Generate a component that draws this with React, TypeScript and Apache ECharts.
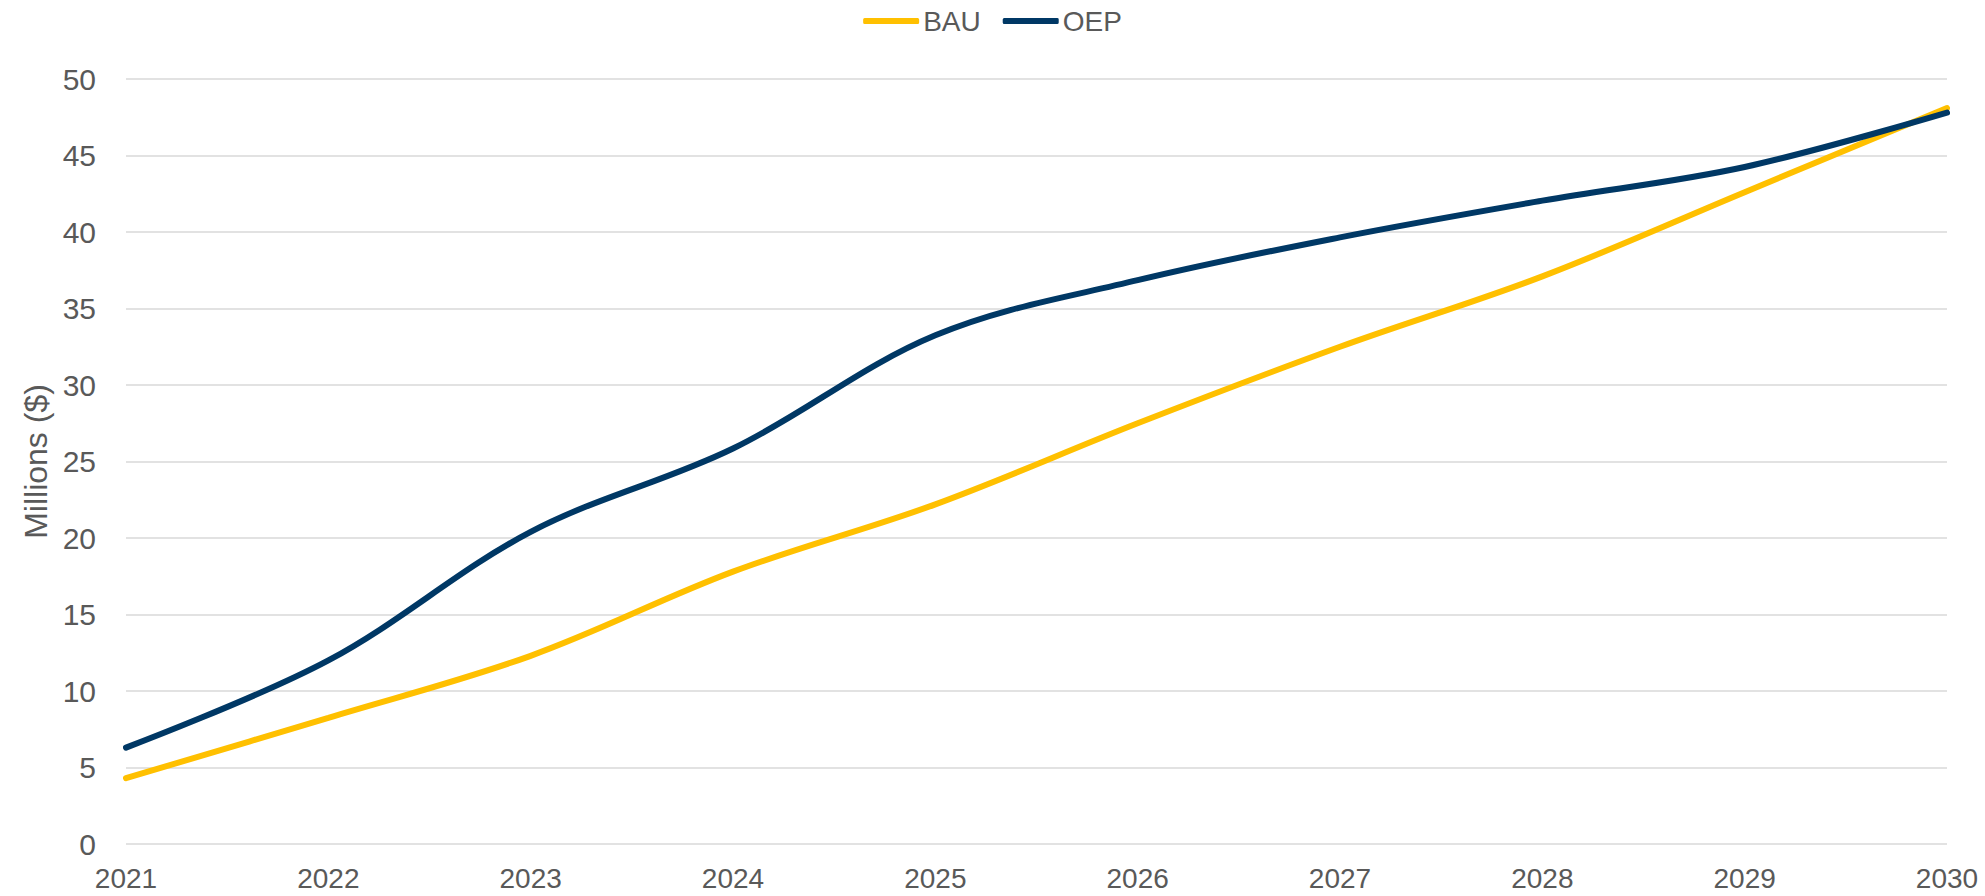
import React, { useEffect, useRef } from "react";
import * as echarts from "echarts";

const years = ["2021", "2022", "2023", "2024", "2025", "2026", "2027", "2028", "2029", "2030"];
const bau = [4.3, 8.25, 12.3, 17.8, 22.2, 27.5, 32.5, 37.1, 42.6, 48.1];
const oep = [6.3, 12.0, 20.4, 25.85, 33.25, 36.85, 39.65, 42.05, 44.25, 47.8];
const seriesNames = ["BAU", "OEP"];
const yAxisTitle = "Millions ($)";

const FONT = "'Liberation Sans', Arial, sans-serif";
const TEXT = "#595959";
const BAU_COLOR = "#FFC000";
const OEP_COLOR = "#003865";

export default function App() {
  const ref = useRef<HTMLDivElement>(null);
  useEffect(() => {
    if (!ref.current) return;
    const chart = echarts.init(ref.current, undefined, { renderer: "svg" });
    chart.setOption({
      animation: false,
      backgroundColor: "#ffffff",
      legend: {
        top: 2,
        left: "center",
        icon: "roundRect",
        itemWidth: 56,
        itemHeight: 6,
        itemGap: 22,
        textStyle: { fontFamily: FONT, fontSize: 28, color: TEXT, padding: [0, 0, 0, -1] },
        data: seriesNames,
      },
      grid: { left: 126, right: 38, top: 79, bottom: 52, containLabel: false },
      xAxis: {
        type: "category",
        data: years,
        boundaryGap: false,
        axisLine: { show: false },
        axisTick: { show: false },
        splitLine: { show: false },
        axisLabel: { fontFamily: FONT, fontSize: 28, color: TEXT, margin: 20 },
      },
      yAxis: {
        type: "value",
        min: 0,
        max: 50,
        interval: 5,
        name: yAxisTitle,
        nameLocation: "middle",
        nameGap: 74,
        nameTextStyle: { fontFamily: FONT, fontSize: 32, color: TEXT },
        axisLine: { show: false },
        axisTick: { show: false },
        axisLabel: { fontFamily: FONT, fontSize: 30, color: TEXT, margin: 30 },
        splitLine: { lineStyle: { color: "#d9d9d9", width: 1.5 } },
      },
      series: [
        {
          name: seriesNames[0],
          type: "line",
          data: bau,
          smooth: 0.35,
          symbol: "none",
          lineStyle: { color: BAU_COLOR, width: 6, cap: "round" },
          itemStyle: { color: BAU_COLOR },
        },
        {
          name: seriesNames[1],
          type: "line",
          data: oep,
          smooth: 0.35,
          symbol: "none",
          lineStyle: { color: OEP_COLOR, width: 6, cap: "round" },
          itemStyle: { color: OEP_COLOR },
        },
      ],
    });
    return () => chart.dispose();
  }, []);
  return (
    <div
      ref={ref}
      style={{ position: "fixed", left: 0, top: 0, width: 1985, height: 896, background: "#fff" }}
    />
  );
}
